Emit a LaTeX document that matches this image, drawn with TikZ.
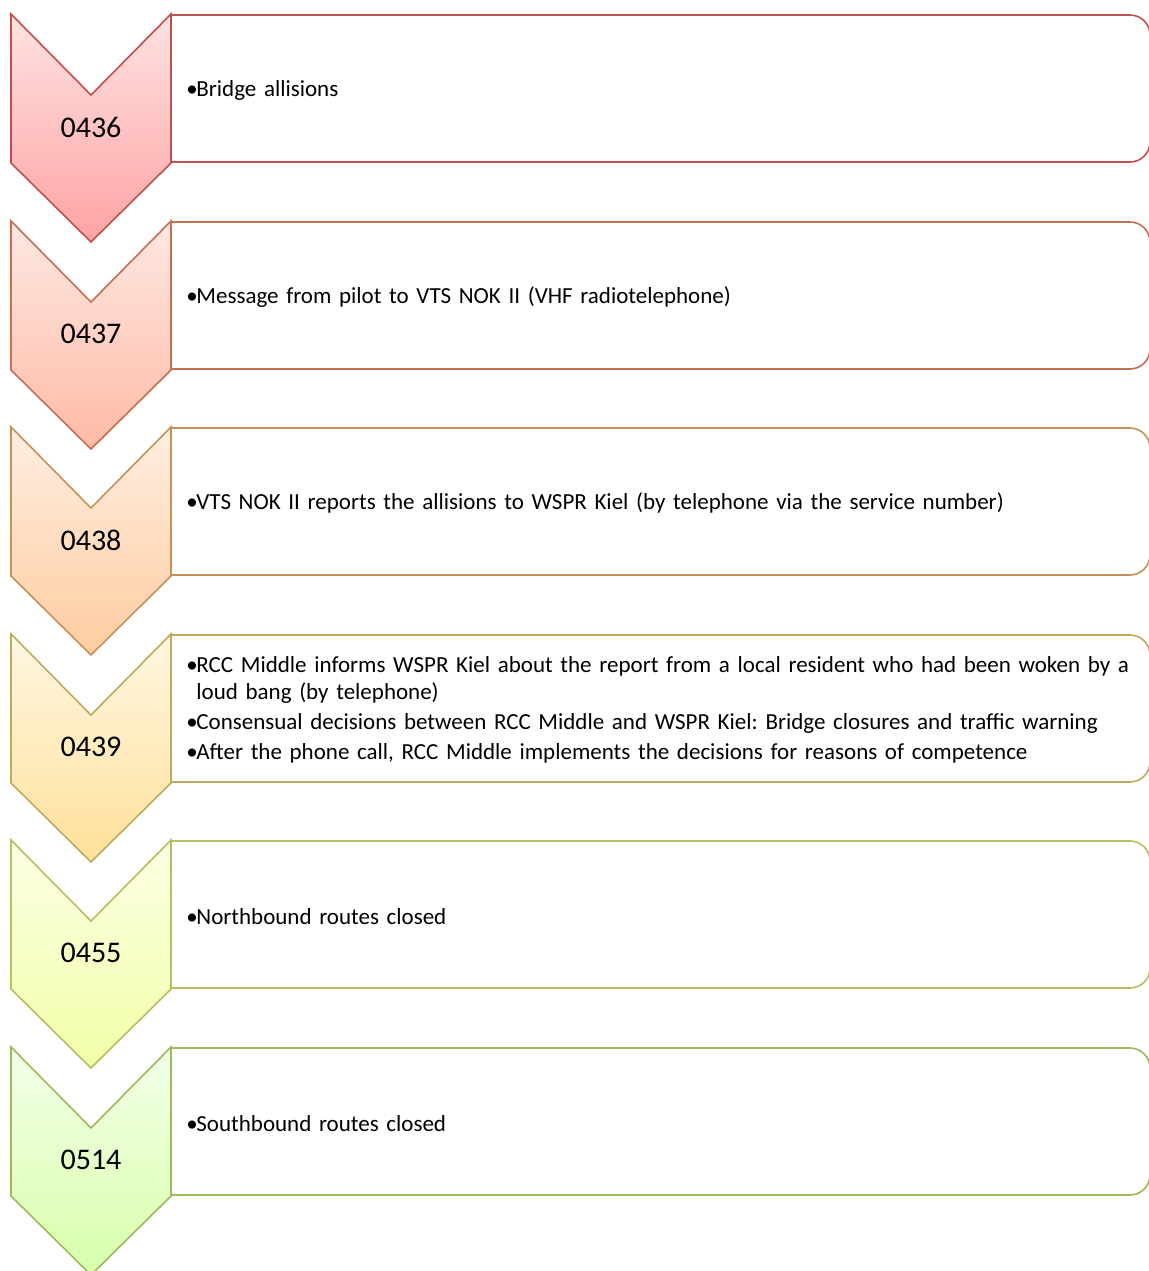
\documentclass[tikz,border=0pt]{standalone}
\usepackage{fontspec}
\setmainfont{Carlito}
\usetikzlibrary{positioning}
\definecolor{rowAline}{RGB}{192,80,77}
\definecolor{rowAtop}{RGB}{255,226,226}
\definecolor{rowAbot}{RGB}{255,163,163}
\definecolor{rowBline}{RGB}{196,110,82}
\definecolor{rowBtop}{RGB}{255,232,226}
\definecolor{rowBbot}{RGB}{255,186,166}
\definecolor{rowCline}{RGB}{196,146,88}
\definecolor{rowCtop}{RGB}{255,238,226}
\definecolor{rowCbot}{RGB}{255,204,160}
\definecolor{rowDline}{RGB}{190,170,92}
\definecolor{rowDtop}{RGB}{255,247,226}
\definecolor{rowDbot}{RGB}{255,224,154}
\definecolor{rowEline}{RGB}{182,190,96}
\definecolor{rowEtop}{RGB}{252,255,228}
\definecolor{rowEbot}{RGB}{242,255,168}
\definecolor{rowFline}{RGB}{155,187,89}
\definecolor{rowFtop}{RGB}{244,255,234}
\definecolor{rowFbot}{RGB}{216,255,170}
\newcommand{\bitem}[1]{\par\hangindent=5pt\hangafter=1\noindent\makebox[5pt][l]{\textbullet}#1}
\frenchspacing
\begin{document}
\begin{tikzpicture}[x=0.5pt,y=-0.5pt,
  chev/.style={line width=0.8pt,line join=miter},
  framebox/.style={line width=0.8pt,fill=white},
  stamp/.style={font=\fontsize{15}{18}\selectfont,inner sep=0pt},
  entry/.style={anchor=west,inner sep=0pt,text width=472pt,align=left,
    font=\fontsize{11.5}{13.5}\selectfont,execute at begin node={\setlength{\parskip}{1.5pt}}}]
\useasboundingbox (0,0) rectangle (1148,1271);
% 0436
\draw[framebox,draw=rowAline] (171,15) -- (1130,15) arc[start angle=90,end angle=0,radius=10pt] -- (1150,142) arc[start angle=0,end angle=-90,radius=10pt] -- (171,162) -- cycle;
\draw[chev,draw=rowAline,top color=rowAtop,bottom color=rowAbot] (11,14) -- (91,95) -- (171,14) -- (171,163) -- (91,242) -- (11,163) -- cycle;
\node[stamp] (n1) at (91,127) {0436};
\node[entry] (t1) at (186,83.5) {\bitem{Bridge allisions}};
% 0437
\draw[framebox,draw=rowBline] (171,222) -- (1130,222) arc[start angle=90,end angle=0,radius=10pt] -- (1150,349) arc[start angle=0,end angle=-90,radius=10pt] -- (171,369) -- cycle;
\draw[chev,draw=rowBline,top color=rowBtop,bottom color=rowBbot] (11,221) -- (91,302) -- (171,221) -- (171,370) -- (91,449) -- (11,370) -- cycle;
\node[stamp] (n2) at (91,334) {0437};
\node[entry] (t2) at (186,290.5) {\bitem{Message from pilot to VTS NOK II (VHF radiotelephone)}};
% 0438
\draw[framebox,draw=rowCline] (171,428) -- (1130,428) arc[start angle=90,end angle=0,radius=10pt] -- (1150,555) arc[start angle=0,end angle=-90,radius=10pt] -- (171,575) -- cycle;
\draw[chev,draw=rowCline,top color=rowCtop,bottom color=rowCbot] (11,427) -- (91,508) -- (171,427) -- (171,576) -- (91,655) -- (11,576) -- cycle;
\node[stamp] (n3) at (91,540) {0438};
\node[entry] (t3) at (186,496.5) {\bitem{VTS NOK II reports the allisions to WSPR Kiel (by telephone via the service number)}};
% 0439
\draw[framebox,draw=rowDline] (171,635) -- (1130,635) arc[start angle=90,end angle=0,radius=10pt] -- (1150,762) arc[start angle=0,end angle=-90,radius=10pt] -- (171,782) -- cycle;
\draw[chev,draw=rowDline,top color=rowDtop,bottom color=rowDbot] (11,634) -- (91,715) -- (171,634) -- (171,783) -- (91,862) -- (11,783) -- cycle;
\node[stamp] (n4) at (91,747) {0439};
\node[entry] (t4) at (186,703) {\bitem{RCC Middle informs WSPR Kiel about the report from a local resident who had been woken by a loud bang (by telephone)}
  \bitem{Consensual decisions between RCC Middle and WSPR Kiel: Bridge closures and traffic warning}
  \bitem{After the phone call, RCC Middle implements the decisions for reasons of competence}};
% 0455
\draw[framebox,draw=rowEline] (171,841) -- (1130,841) arc[start angle=90,end angle=0,radius=10pt] -- (1150,968) arc[start angle=0,end angle=-90,radius=10pt] -- (171,988) -- cycle;
\draw[chev,draw=rowEline,top color=rowEtop,bottom color=rowEbot] (11,840) -- (91,921) -- (171,840) -- (171,989) -- (91,1068) -- (11,989) -- cycle;
\node[stamp] (n5) at (91,953) {0455};
\node[entry] (t5) at (186,909.5) {\bitem{Northbound routes closed}};
% 0514
\draw[framebox,draw=rowFline] (171,1048) -- (1130,1048) arc[start angle=90,end angle=0,radius=10pt] -- (1150,1175) arc[start angle=0,end angle=-90,radius=10pt] -- (171,1195) -- cycle;
\draw[chev,draw=rowFline,top color=rowFtop,bottom color=rowFbot] (11,1047) -- (91,1128) -- (171,1047) -- (171,1196) -- (91,1275) -- (11,1196) -- cycle;
\node[stamp] (n6) at (91,1160) {0514};
\node[entry] (t6) at (186,1116.5) {\bitem{Southbound routes closed}};
\end{tikzpicture}
\end{document}
